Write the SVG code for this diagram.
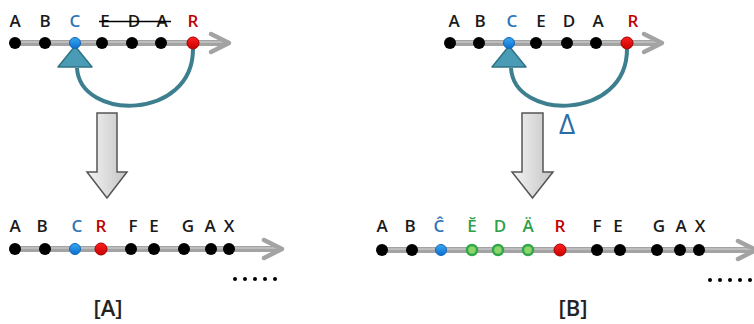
<svg xmlns="http://www.w3.org/2000/svg" width="754" height="324" viewBox="0 0 754 324">
<defs>
<linearGradient id="bigArrow" x1="0" y1="0" x2="1" y2="0">
<stop offset="0" stop-color="#f4f4f4"/>
<stop offset="1" stop-color="#c4c4c4"/>
</linearGradient>
<linearGradient id="blueDot" x1="0" y1="0" x2="0" y2="1">
<stop offset="0" stop-color="#3aa8f0"/>
<stop offset="1" stop-color="#0b6fd0"/>
</linearGradient>
<linearGradient id="redDot" x1="0" y1="0" x2="0" y2="1">
<stop offset="0" stop-color="#ff2020"/>
<stop offset="1" stop-color="#c80000"/>
</linearGradient>
</defs>
<style>
text{font-family:"Open Sans","Liberation Sans","DejaVu Sans",sans-serif;font-size:17px;font-weight:600;text-anchor:middle;fill:#1a1a1a}
.blue{fill:#2e75b6}
.red{fill:#c00000}
.green{fill:#2ea04c}
.lbl{font-size:22px;font-weight:600;fill:#222}
.delta{font-size:28px;font-weight:500;fill:#2e6da4}
.bar{stroke:#a3a3a3;stroke-width:6;fill:none}
.barhi{stroke:#bdbdbd;stroke-width:2;fill:none}
.head{stroke:#a3a3a3;stroke-width:4.5;fill:none;stroke-linecap:round;stroke-linejoin:round}
.k{fill:#000}
.b{fill:url(#blueDot);stroke:#1466b8;stroke-width:1}
.r{fill:url(#redDot);stroke:#a00000;stroke-width:1}
.g{fill:#8ed46a;stroke:#2ea84a;stroke-width:2.5}
.arc{fill:none;stroke:#3d7f8e;stroke-width:4}
.tri{fill:#4a9cb6;stroke:#2f7283;stroke-width:1.5;stroke-linejoin:round}
.down{fill:url(#bigArrow);stroke:#555;stroke-width:1.5}
.dots{fill:#000}
</style>

<g id="connectors">
  <line class="bar" x1="12" y1="43" x2="226" y2="43"/>
  <line class="barhi" x1="12" y1="42" x2="226" y2="42"/>
  <polyline class="head" points="211,34 229,43 211,52"/>

  <line class="bar" x1="447" y1="43" x2="659" y2="43"/>
  <line class="barhi" x1="447" y1="42" x2="659" y2="42"/>
  <polyline class="head" points="644,34 662,43 644,52"/>

  <line class="bar" x1="12" y1="249" x2="279" y2="249"/>
  <line class="barhi" x1="12" y1="248" x2="279" y2="248"/>
  <polyline class="head" points="264,240 282,249 264,258"/>

  <line class="bar" x1="379" y1="250" x2="752" y2="250"/>
  <line class="barhi" x1="379" y1="249" x2="752" y2="249"/>
  <polyline class="head" points="738,241 756,250 738,259"/>

  <path class="arc" d="M193,49 C193,121 80,121 77,68"/>
  <polygon class="tri" points="75,46 58,67 92,67"/>
  <path class="arc" d="M627,49 C627,121 514,121 511,68"/>
  <polygon class="tri" points="509,46 492,67 526,67"/>

  <polygon class="down" points="97,113 117,113 117,172 127,172 107,198 87,172 97,172"/>
  <polygon class="down" points="522,113 543,113 543,172 553,172 532.5,198 512,172 522,172"/>
</g>

<g id="tl-A"><circle class="k" cx="15" cy="43" r="6"/><text x="15" y="27">A</text></g>
<g id="tl-B"><circle class="k" cx="45" cy="43" r="6"/><text x="45" y="27">B</text></g>
<g id="tl-C"><circle class="b" cx="75" cy="43" r="5.5"/><text class="blue" x="75" y="27">C</text></g>
<g id="tl-E"><circle class="k" cx="102" cy="43" r="6"/><text x="105" y="27">E</text></g>
<g id="tl-D"><circle class="k" cx="132" cy="43" r="6"/><text x="134" y="27">D</text></g>
<g id="tl-A2"><circle class="k" cx="161" cy="43" r="6"/><text x="162" y="27">A</text></g>
<g id="tl-R"><circle class="r" cx="193" cy="43" r="6"/><text class="red" x="193" y="27">R</text></g>
<line x1="99" y1="21.5" x2="171" y2="21.5" stroke="#000" stroke-width="1.6"/>

<g id="tr-A"><circle class="k" cx="450" cy="43" r="6"/><text x="454" y="27">A</text></g>
<g id="tr-B"><circle class="k" cx="479" cy="43" r="6"/><text x="480" y="27">B</text></g>
<g id="tr-C"><circle class="b" cx="509" cy="43" r="5.5"/><text class="blue" x="512" y="27">C</text></g>
<g id="tr-E"><circle class="k" cx="536" cy="43" r="6"/><text x="541" y="27">E</text></g>
<g id="tr-D"><circle class="k" cx="567" cy="43" r="6"/><text x="569" y="27">D</text></g>
<g id="tr-A2"><circle class="k" cx="596" cy="43" r="6"/><text x="598" y="27">A</text></g>
<g id="tr-R"><circle class="r" cx="627" cy="43" r="6"/><text class="red" x="633" y="27">R</text></g>
<text class="delta" x="567" y="134">Δ</text>

<g id="bl-A"><circle class="k" cx="15" cy="249" r="6"/><text x="15" y="232">A</text></g>
<g id="bl-B"><circle class="k" cx="45" cy="249" r="6"/><text x="42" y="232">B</text></g>
<g id="bl-C"><circle class="b" cx="75" cy="249" r="5.5"/><text class="blue" x="77" y="232">C</text></g>
<g id="bl-R"><circle class="r" cx="101" cy="249" r="6"/><text class="red" x="101" y="232">R</text></g>
<g id="bl-F"><circle class="k" cx="131" cy="249" r="6"/><text x="133" y="232">F</text></g>
<g id="bl-E"><circle class="k" cx="154" cy="249" r="6"/><text x="154" y="232">E</text></g>
<g id="bl-G"><circle class="k" cx="184" cy="249" r="6"/><text x="188" y="232">G</text></g>
<g id="bl-A2"><circle class="k" cx="211" cy="249" r="6"/><text x="210" y="232">A</text></g>
<g id="bl-X"><circle class="k" cx="229" cy="249" r="6"/><text x="229" y="232">X</text></g>
<g id="bl-more" class="dots">
  <circle cx="235" cy="279" r="2"/><circle cx="245" cy="279" r="2"/><circle cx="255" cy="279" r="2"/><circle cx="265" cy="279" r="2"/><circle cx="275" cy="279" r="2"/>
</g>
<text class="lbl" x="108" y="316">[A]</text>

<g id="br-A"><circle class="k" cx="382" cy="250" r="6"/><text x="382" y="232">A</text></g>
<g id="br-B"><circle class="k" cx="412" cy="250" r="6"/><text x="410" y="232">B</text></g>
<g id="br-C"><circle class="b" cx="441" cy="250" r="5.5"/><text class="blue" x="439" y="232">Ĉ</text></g>
<g id="br-E"><circle class="g" cx="472" cy="250" r="5"/><text class="green" x="472" y="232">Ĕ</text></g>
<g id="br-D"><circle class="g" cx="498" cy="250" r="5"/><text class="green" x="500" y="232">D</text></g>
<g id="br-A2"><circle class="g" cx="528" cy="250" r="5"/><text class="green" x="528" y="232">Ä</text></g>
<g id="br-R"><circle class="r" cx="560" cy="250" r="6"/><text class="red" x="560" y="232">R</text></g>
<g id="br-F"><circle class="k" cx="597" cy="250" r="6"/><text x="597" y="232">F</text></g>
<g id="br-E2"><circle class="k" cx="620" cy="250" r="6"/><text x="618" y="232">E</text></g>
<g id="br-G"><circle class="k" cx="657" cy="250" r="6"/><text x="659" y="232">G</text></g>
<g id="br-A3"><circle class="k" cx="680" cy="250" r="6"/><text x="681" y="232">A</text></g>
<g id="br-X"><circle class="k" cx="699" cy="250" r="6"/><text x="700" y="232">X</text></g>
<g id="br-more" class="dots">
  <circle cx="710" cy="280" r="2"/><circle cx="720" cy="280" r="2"/><circle cx="730" cy="280" r="2"/><circle cx="740" cy="280" r="2"/><circle cx="750" cy="280" r="2"/>
</g>
<text class="lbl" x="573" y="316">[B]</text>
</svg>
